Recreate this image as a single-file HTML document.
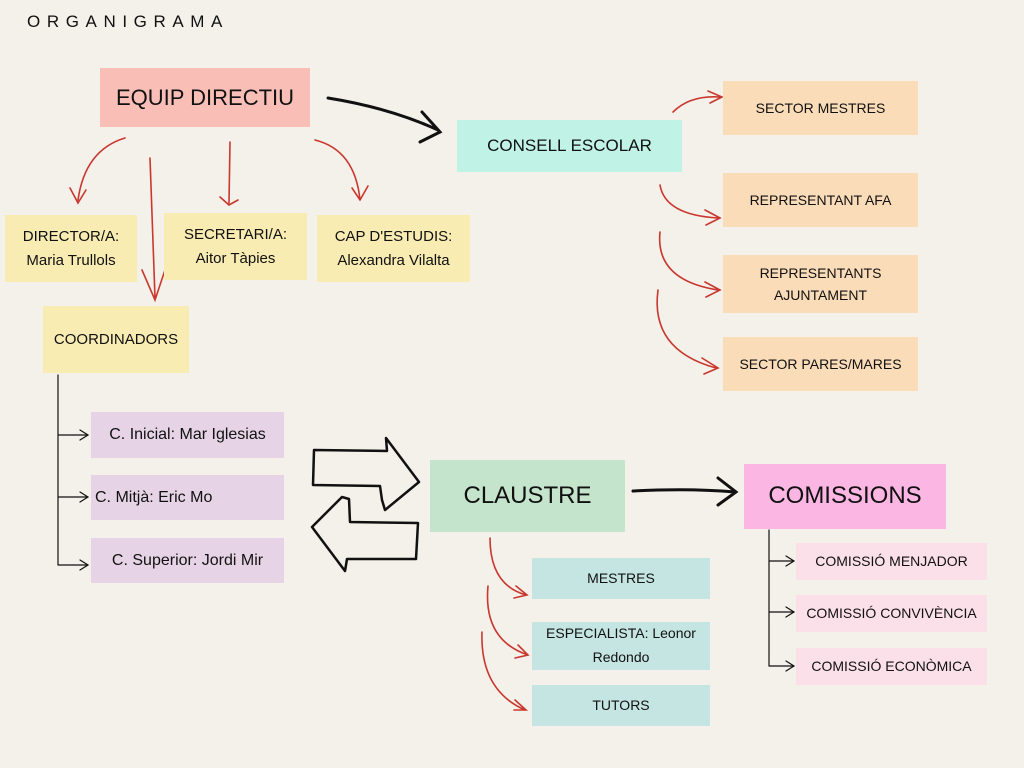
<!DOCTYPE html>
<html><head><meta charset="utf-8"><style>
body{margin:0;width:1024px;height:768px;background:#f4f0ea;position:relative;overflow:hidden;font-family:"Liberation Sans",sans-serif;color:#111}
.b{position:absolute;display:flex;align-items:center;justify-content:center;text-align:center;line-height:1.6;font-size:14px}
svg{position:absolute;left:0;top:0}
</style></head><body>
<div style="position:absolute;left:27px;top:12px;font-size:17px;letter-spacing:6.6px;">ORGANIGRAMA</div>
<svg width="1024" height="768" fill="none" stroke-linecap="round">
<g stroke="#c9382e" stroke-width="1.6">
<path d="M125 138 Q85 150 78 200 M70 188 L78 203 L86 190"/>
<path d="M230 142 L229 203 M220 197 L229 205 L238 200"/>
<path d="M315 140 Q355 150 360 200 M352 188 L360 200 L368 186"/>
<path d="M150 158 L155 298 M142 270 L155 300 L165 270"/>
<path d="M673 112 Q690 95 720 97 M708 91 L722 97 L710 103"/>
<path d="M660 185 Q665 215 718 218 M705 210 L720 218 L706 225"/>
<path d="M660 232 Q655 280 718 290 M705 282 L720 290 L706 297"/>
<path d="M658 290 Q650 350 716 368 M702 358 L718 368 L704 374"/>
<path d="M490 538 Q490 585 526 595 M516 586 L527 595 L514 598"/>
<path d="M488 586 Q483 640 528 655 M518 645 L528 655 L515 658"/>
<path d="M482 632 Q480 690 525 710 M515 700 L526 710 L514 710"/>
</g>
<g stroke="#111" stroke-width="3">
<path d="M328 98 Q390 108 438 130 M422 112 L440 132 L420 142"/>
<path d="M633 491 Q690 488 735 492 M718 478 L736 492 L718 505"/>
</g>
<g stroke="#111" stroke-width="1.2">
<path d="M58 375 L58 565 M58 435 L87 435 M80 430 L88 435 L80 440 M58 497 L87 497 M80 492 L88 497 L80 502 M58 565 L87 565 M80 560 L88 565 L80 570"/>
<path d="M769 530 L769 666 M769 561 L793 561 M786 556 L794 561 L786 566 M769 612 L793 612 M786 607 L794 612 L786 617 M769 666 L793 666 M786 661 L794 666 L786 671"/>
</g>
<g stroke="#111" stroke-width="2.5" stroke-linejoin="round">
<path d="M314 450 L387 451 L386 438 L419 482 L385 510 L382 500 L380 486 L313 485 Z"/>
<path d="M418 523 L350 522 L349 499 L342 497 L312 527 L345 571 L347 559 L416 559 Z"/>
</g>
</svg>
<div class="b" style="left:100px;top:68px;width:210px;height:59px;background:#f9bfb7;font-size:22px">EQUIP DIRECTIU</div>
<div class="b" style="left:457px;top:120px;width:225px;height:52px;background:#c0f3e5;font-size:17px">CONSELL ESCOLAR</div>
<div class="b" style="left:723px;top:81px;width:195px;height:54px;background:#fbdcb8">SECTOR MESTRES</div>
<div class="b" style="left:723px;top:173px;width:195px;height:54px;background:#fbdcb8">REPRESENTANT AFA</div>
<div class="b" style="left:723px;top:255px;width:195px;height:58px;background:#fbdcb8">REPRESENTANTS<br>AJUNTAMENT</div>
<div class="b" style="left:723px;top:337px;width:195px;height:54px;background:#fbdcb8">SECTOR PARES/MARES</div>
<div class="b" style="left:5px;top:215px;width:132px;height:67px;background:#f8ecb3;font-size:15px">DIRECTOR/A:<br>Maria Trullols</div>
<div class="b" style="left:164px;top:213px;width:143px;height:67px;background:#f8ecb3;font-size:15px">SECRETARI/A:<br>Aitor Tàpies</div>
<div class="b" style="left:317px;top:215px;width:153px;height:67px;background:#f8ecb3;font-size:15px">CAP D'ESTUDIS:<br>Alexandra Vilalta</div>
<div class="b" style="left:43px;top:306px;width:146px;height:67px;background:#f8ecb3;font-size:15px">COORDINADORS</div>
<div class="b" style="left:91px;top:412px;width:193px;height:46px;background:#e6d4e6;font-size:16px">C. Inicial: Mar Iglesias</div>
<div class="b" style="left:91px;top:475px;width:193px;height:45px;background:#e6d4e6;font-size:16px;justify-content:flex-start;padding-left:4px;box-sizing:border-box">C. Mitjà: Eric Mo</div>
<div class="b" style="left:91px;top:538px;width:193px;height:45px;background:#e6d4e6;font-size:16px">C. Superior: Jordi Mir</div>
<div class="b" style="left:430px;top:460px;width:195px;height:72px;background:#c4e5cb;font-size:24px">CLAUSTRE</div>
<div class="b" style="left:532px;top:558px;width:178px;height:41px;background:#c4e5e2">MESTRES</div>
<div class="b" style="left:532px;top:622px;width:178px;height:48px;background:#c4e5e2;line-height:1.7">ESPECIALISTA: Leonor<br>Redondo</div>
<div class="b" style="left:532px;top:685px;width:178px;height:41px;background:#c4e5e2">TUTORS</div>
<div class="b" style="left:744px;top:464px;width:202px;height:65px;background:#fbb6e3;font-size:24px">COMISSIONS</div>
<div class="b" style="left:796px;top:543px;width:191px;height:37px;background:#fbe0ea">COMISSIÓ MENJADOR</div>
<div class="b" style="left:796px;top:595px;width:191px;height:37px;background:#fbe0ea">COMISSIÓ CONVIVÈNCIA</div>
<div class="b" style="left:796px;top:648px;width:191px;height:37px;background:#fbe0ea">COMISSIÓ ECONÒMICA</div>
</body></html>
